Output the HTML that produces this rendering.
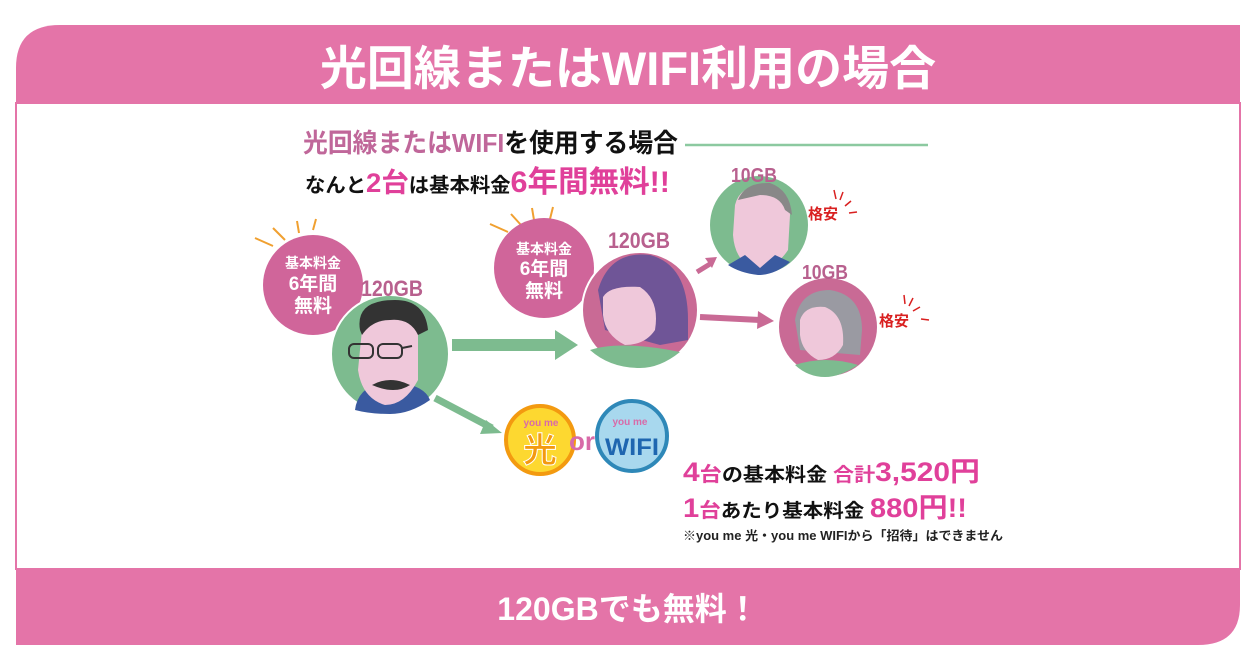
<!DOCTYPE html>
<html><head><meta charset="utf-8"><style>
body{margin:0;width:1254px;height:665px;background:#fff;overflow:hidden;font-family:"Liberation Sans","Noto Sans CJK JP",sans-serif;}
svg text{font-family:"Liberation Sans","Noto Sans CJK JP",sans-serif;font-weight:bold}
</style></head><body>
<svg width="1254" height="665" viewBox="0 0 1254 665" xmlns="http://www.w3.org/2000/svg">
<path d="M16,68 Q16,25 60,25 L1240,25 L1240,103 L16,103 Z" fill="#e474a8"/>
<rect x="16" y="103" width="1224" height="466" fill="#fff" stroke="#e474a8" stroke-width="2"/>
<path d="M16,568 L1240,568 L1240,605 Q1240,645 1198,645 L16,645 Z" fill="#e474a8"/>
<text x="628" y="85" font-size="47" fill="#fff" text-anchor="middle">光回線またはWIFI利用の場合</text>
<text x="628" y="620" font-size="32" fill="#fff" text-anchor="middle">120GBでも無料！</text>

<text x="303" y="152" font-size="26" textLength="375" lengthAdjust="spacingAndGlyphs"><tspan fill="#c0679a">光回線またはWIFI</tspan><tspan fill="#111">を使用する場合</tspan></text>
<line x1="685" y1="145" x2="928" y2="145" stroke="#8cc9a0" stroke-width="2.5"/>
<text x="305" y="192" font-size="20" fill="#111" textLength="365" lengthAdjust="spacingAndGlyphs">なんと<tspan fill="#e0409a" font-size="27">2台</tspan>は基本料金<tspan fill="#e0409a" font-size="30">6年間無料!!</tspan></text>

<path d="M452,339 L555,339 L555,330 L578,345 L555,360 L555,351 L452,351 Z" fill="#7dbb8f"/>
<line x1="435" y1="398" x2="492" y2="428" stroke="#7dbb8f" stroke-width="7"/>
<path d="M486,420 L502,433 L480,434 Z" fill="#7dbb8f"/>
<line x1="700" y1="317" x2="760" y2="320" stroke="#c96a95" stroke-width="6"/>
<path d="M758,311 L774,321 L757,329 Z" fill="#c96a95"/>
<line x1="697" y1="272" x2="710" y2="264" stroke="#c96a95" stroke-width="5"/>
<path d="M705,258 L717,257 L712,268 Z" fill="#c96a95"/>

<g stroke="#f0a030" stroke-width="2">
<line x1="255" y1="238" x2="273" y2="246"/><line x1="273" y1="228" x2="285" y2="240"/><line x1="297" y1="221" x2="299" y2="233"/><line x1="316" y1="219" x2="313" y2="230"/>
<line x1="490" y1="224" x2="508" y2="232"/><line x1="511" y1="214" x2="521" y2="225"/><line x1="532" y1="208" x2="534" y2="220"/><line x1="553" y1="207" x2="550" y2="219"/>
</g>
<g stroke="#d92020" stroke-width="1.5">
<line x1="834" y1="190" x2="836" y2="199"/><line x1="843" y1="192" x2="840" y2="200"/><line x1="851" y1="201" x2="845" y2="206"/><line x1="857" y1="212" x2="849" y2="213"/>
<line x1="904" y1="295" x2="905" y2="304"/><line x1="913" y1="298" x2="909" y2="306"/><line x1="920" y1="307" x2="913" y2="311"/><line x1="929" y1="320" x2="921" y2="319"/>
</g>

<circle cx="313" cy="285" r="50" fill="#d0659a"/>
<text x="313" y="268" font-size="14" fill="#fff" text-anchor="middle">基本料金</text>
<text x="313" y="290" font-size="19" fill="#fff" text-anchor="middle">6年間</text>
<text x="313" y="312" font-size="19" fill="#fff" text-anchor="middle">無料</text>
<circle cx="544" cy="268" r="50" fill="#d0659a"/>
<text x="544" y="254" font-size="14" fill="#fff" text-anchor="middle">基本料金</text>
<text x="544" y="275" font-size="19" fill="#fff" text-anchor="middle">6年間</text>
<text x="544" y="297" font-size="19" fill="#fff" text-anchor="middle">無料</text>

<circle cx="390" cy="354" r="59" fill="#7dbb8f" stroke="#fff" stroke-width="2"/>
<path d="M355,410 Q358,385 390,380 Q425,385 430,400 Q410,414 390,414 Q370,414 355,410Z" fill="#3a5aa0"/>
<path d="M362,330 Q365,305 392,305 Q420,308 418,335 L418,380 Q405,405 385,405 Q362,398 358,370 Z" fill="#efc8da"/>
<path d="M360,330 Q355,300 395,300 Q425,300 428,330 L418,335 Q410,318 390,320 Q372,320 362,335 Z" fill="#333"/>
<path d="M372,385 Q390,375 410,385 Q395,395 372,385Z" fill="#333"/>
<g fill="none" stroke="#333" stroke-width="2"><rect x="349" y="344" width="24" height="14" rx="5"/><rect x="378" y="344" width="24" height="14" rx="5"/><line x1="402" y1="348" x2="412" y2="346"/></g>
<text x="392" y="296" font-size="22" fill="#b8608e" text-anchor="middle" textLength="62" lengthAdjust="spacingAndGlyphs">120GB</text>

<circle cx="640" cy="310" r="58" fill="#c96a95" stroke="#fff" stroke-width="2"/>
<path d="M598,290 Q610,250 650,255 Q688,265 688,320 L688,340 L660,345 L605,330 Z" fill="#6f5597"/>
<path d="M603,297 Q610,285 640,287 Q660,300 655,330 Q645,345 625,345 Q605,335 603,315 Z" fill="#efc8da"/>
<path d="M590,350 Q620,340 680,352 Q660,368 640,368 Q610,368 590,350Z" fill="#7dbb8f"/>
<text x="639" y="248" font-size="22" fill="#b8608e" text-anchor="middle" textLength="62" lengthAdjust="spacingAndGlyphs">120GB</text>

<circle cx="759" cy="225" r="49" fill="#7dbb8f"/>
<path d="M735,205 Q740,185 765,185 Q790,190 790,215 L788,250 Q775,270 755,268 Q735,262 733,235Z" fill="#efc8da"/>
<path d="M738,200 Q745,182 770,183 Q790,190 792,215 L785,210 Q780,195 760,195 Z" fill="#888"/>
<path d="M728,265 L745,255 L760,268 L775,255 L790,262 Q775,275 758,275 Q740,273 728,265Z" fill="#3a5aa0"/>
<text x="754" y="182" font-size="20" fill="#b8608e" text-anchor="middle" textLength="46" lengthAdjust="spacingAndGlyphs">10GB</text>
<text x="823" y="219" font-size="15" fill="#d92020" text-anchor="middle">格安</text>

<circle cx="828" cy="327" r="49" fill="#c96a95"/>
<path d="M795,320 Q800,290 830,290 Q862,295 862,330 L860,355 L800,350 Z" fill="#9a9aa2"/>
<path d="M800,320 Q805,305 825,307 Q845,315 843,345 Q835,360 818,360 Q802,352 800,335Z" fill="#efc8da"/>
<path d="M795,365 Q825,355 858,365 Q840,377 825,377 Q808,377 795,365Z" fill="#7dbb8f"/>
<text x="825" y="279" font-size="20" fill="#b8608e" text-anchor="middle" textLength="46" lengthAdjust="spacingAndGlyphs">10GB</text>
<text x="894" y="326" font-size="15" fill="#d92020" text-anchor="middle">格安</text>

<circle cx="540" cy="440" r="34" fill="#fdd830" stroke="#f39a10" stroke-width="4"/>
<text x="541" y="426" font-size="10" fill="#d86aa8" text-anchor="middle" font-weight="normal">you me</text>
<text x="540" y="462" font-size="34" fill="#f39a10" text-anchor="middle" stroke="#fff" stroke-width="1">光</text>
<circle cx="632" cy="436" r="35" fill="#a8d8ee" stroke="#2e88b8" stroke-width="4"/>
<text x="630" y="425" font-size="10" fill="#d86aa8" text-anchor="middle" font-weight="normal">you me</text>
<text x="632" y="455" font-size="24" fill="#1e66b0" text-anchor="middle" textLength="54" lengthAdjust="spacingAndGlyphs">WIFI</text>
<text x="582" y="450" font-size="26" fill="#d86aa8" text-anchor="middle">or</text>

<text x="683" y="481" font-size="19" fill="#111" textLength="297" lengthAdjust="spacingAndGlyphs"><tspan fill="#e0409a" font-size="27">4</tspan><tspan fill="#e0409a" font-size="20">台</tspan>の基本料金 <tspan fill="#e0409a">合計</tspan><tspan fill="#e0409a" font-size="27">3,520円</tspan></text>
<text x="683" y="517" font-size="19" fill="#111" textLength="284" lengthAdjust="spacingAndGlyphs"><tspan fill="#e0409a" font-size="27">1</tspan><tspan fill="#e0409a" font-size="20">台</tspan>あたり基本料金 <tspan fill="#e0409a" font-size="27">880円!!</tspan></text>
<text x="683" y="540" font-size="12.5" fill="#222" textLength="320" lengthAdjust="spacingAndGlyphs">※you me 光・you me WIFIから「招待」はできません</text>
</svg>
</body></html>
